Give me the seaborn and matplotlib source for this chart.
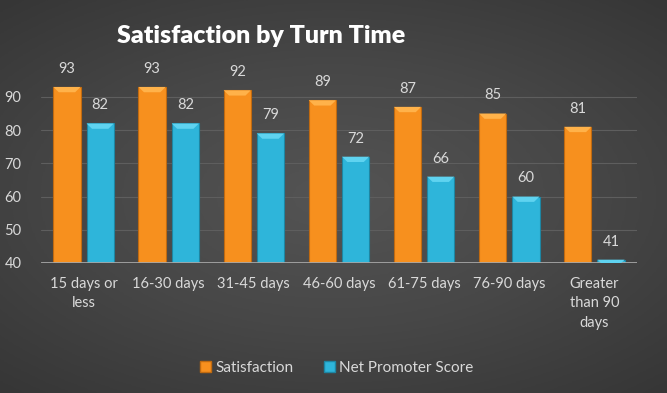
import numpy as np
import pandas as pd
import matplotlib
matplotlib.use("Agg")
import matplotlib.pyplot as plt
import seaborn as sns

categories = ["15 days or\nless", "16-30 days", "31-45 days", "46-60 days",
              "61-75 days", "76-90 days", "Greater\nthan 90\ndays"]
satisfaction = [93, 93, 92, 89, 87, 85, 81]
nps = [82, 82, 79, 72, 66, 60, 41]
series_names = ["Satisfaction", "Net Promoter Score"]
yticks = [40, 50, 60, 70, 80, 90]

df = pd.DataFrame({
    "cat": categories * 2,
    "value": satisfaction + nps,
    "series": [series_names[0]] * len(categories) + [series_names[1]] * len(categories),
})

sns.set_theme(style="dark")
plt.rcParams["font.family"] = ["Lato", "DejaVu Sans"]
txt = "#d9d9d9"

fig = plt.figure(figsize=(6.67, 3.93), dpi=100)
# radial gradient background
bg = fig.add_axes([0, 0, 1, 1], zorder=-10)
yy, xx = np.mgrid[-1:1:300j, -1:1:500j]
r = np.sqrt((xx * 0.9) ** 2 + (yy * 1.0) ** 2)
bg.imshow(np.clip(r, 0, 1.4), cmap=matplotlib.colors.LinearSegmentedColormap.from_list(
    "g", ["#545454", "#474747", "#363636"]), aspect="auto", extent=[0, 1, 0, 1])
bg.axis("off")

ax = fig.add_axes([41 / 667, 1 - 263 / 393, 596 / 667, (263 - 72) / 393])
ax.set_facecolor("none")
palette = {series_names[0]: "#F7901E", series_names[1]: "#2EB5DA"}
sns.barplot(data=df, x="cat", y="value", hue="series", palette=palette,
            width=0.78, gap=0.18, ax=ax, saturation=1, edgecolor=None,
            linewidth=0)
ax.set_ylim(40, 97.5)
ax.set_yticks(yticks)
ax.set_xlim(-0.5, len(categories) - 0.5)
for y in yticks[1:]:
    ax.axhline(y, color="#5e5e5e", lw=0.8, zorder=0)
ax.axhline(40, color="#a6a6a6", lw=2, zorder=3)
darks = ["#c06a10", "#1d86a3"]
lights = ["#FFB24A", "#5FD3F0"]
for cont, dk, lt in zip(ax.containers, darks, lights):
    for bar in cont:
        bar.set_edgecolor(dk)
        bar.set_linewidth(0.8)
        # bevel highlight at the top of each bar
        x0, w, top = bar.get_x(), bar.get_width(), bar.get_height() + bar.get_y()
        ax.fill([x0, x0 + w, x0 + w * 0.8, x0 + w * 0.2],
                [top, top, top - 1.6, top - 1.6], color=lt, lw=0, zorder=4)
    ax.bar_label(cont, padding=8, color=txt, fontsize=10.5)
for s in ax.spines.values():
    s.set_visible(False)
ax.grid(False)
ax.set_xlabel("")
ax.set_ylabel("")
ax.tick_params(axis="both", length=0, colors=txt, labelsize=10.5)
ax.tick_params(axis="y", pad=14)
ax.tick_params(axis="x", pad=10)
for lab in ax.get_xticklabels():
    lab.set_linespacing(1.5)
ax.legend_.remove()
handles = [matplotlib.patches.Patch(facecolor=palette[n], edgecolor=d) for n, d in zip(series_names, darks)]
fig.legend(handles, series_names, loc="center", bbox_to_anchor=(0.505, 1 - 368 / 393),
           ncol=2, frameon=False, labelcolor=txt, fontsize=11,
           handlelength=0.7, handleheight=0.7, handletextpad=0.3, columnspacing=2.0)
fig.text(261 / 667, 1 - 36 / 393, "Satisfaction by Turn Time", ha="center", va="center",
         color="white", fontsize=18, fontweight="heavy")
fig.savefig("out.png", dpi=100)
